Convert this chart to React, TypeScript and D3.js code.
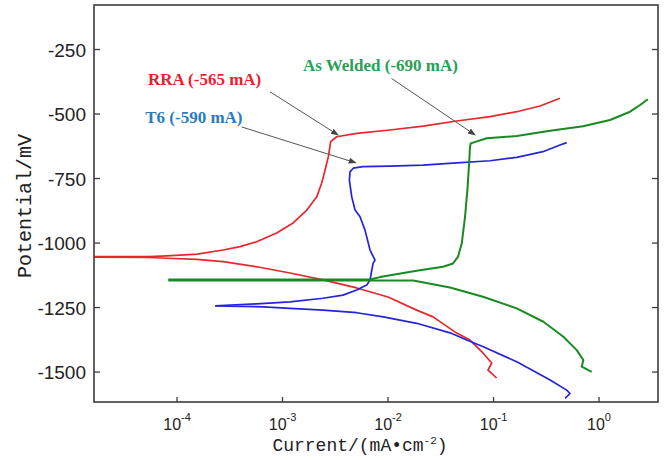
import React from 'react';
import * as d3 from 'd3';

// current in mA/cm2, potential in mV
const rraAnodic: [number, number][] = [
  [1.6e-5, -1053], [5.5e-5, -1053], [8.0e-5, -1050], [1.55e-4, -1043], [2.73e-4, -1027],
  [3.95e-4, -1014], [5.69e-4, -995], [8.8e-4, -961], [1.26e-3, -922], [1.7e-3, -872],
  [2.11e-3, -821], [2.35e-3, -767], [2.44e-3, -743], [2.72e-3, -665], [2.86e-3, -607],
  [3.26e-3, -588], [5.05e-3, -575], [1.04e-2, -562], [2.15e-2, -547], [4.48e-2, -527],
  [9.27e-2, -510], [0.166, -491], [0.276, -469], [0.427, -439],
];
const rraCathodic: [number, number][] = [
  [1.6e-5, -1055], [5.5e-5, -1056], [7.98e-5, -1059], [1.54e-4, -1063], [2.73e-4, -1072],
  [5.69e-4, -1092], [1.18e-3, -1116], [2.42e-3, -1143], [5.05e-3, -1174], [1.0e-2, -1209],
  [1.87e-2, -1260], [2.67e-2, -1286], [4.48e-2, -1349], [5.98e-2, -1376], [7.94e-2, -1426],
  [9.61e-2, -1465], [8.87e-2, -1492], [0.107, -1523],
];
const t6Anodic: [number, number][] = [
  [2.29e-4, -1243], [5.69e-4, -1236], [1.18e-3, -1228], [2.42e-3, -1214], [3.74e-3, -1202],
  [5.05e-3, -1182], [6.28e-3, -1163], [6.75e-3, -1143], [7.21e-3, -1079], [7.53e-3, -1066],
  [6.75e-3, -1027], [6.05e-3, -950], [5.43e-3, -898], [4.87e-3, -872], [4.53e-3, -821],
  [4.3e-3, -756], [4.36e-3, -724], [4.69e-3, -710], [5.79e-3, -704], [1.04e-2, -702],
  [2.15e-2, -698], [4.48e-2, -689], [9.27e-2, -681], [0.166, -668], [0.294, -646],
  [0.427, -620], [0.494, -611],
];
const t6Cathodic: [number, number][] = [
  [2.29e-4, -1244], [6.58e-4, -1247], [1.18e-3, -1253], [2.42e-3, -1260], [5.05e-3, -1270],
  [9.02e-3, -1286], [1.87e-2, -1311], [3.87e-2, -1348], [5.57e-2, -1376], [8.0e-2, -1402],
  [0.166, -1460], [0.344, -1531], [0.494, -1570], [0.531, -1583], [0.477, -1602],
];
const weldAnodic: [number, number][] = [
  [8.27e-5, -1141], [6.75e-3, -1141], [8.39e-3, -1132], [1.87e-2, -1107], [3.32e-2, -1092],
  [4.13e-2, -1079], [4.61e-2, -1053], [5.0e-2, -1001], [5.37e-2, -898], [5.65e-2, -795],
  [5.9e-2, -678], [5.98e-2, -627], [6.08e-2, -614], [6.39e-2, -611], [8.63e-2, -594],
  [0.166, -585], [0.344, -565], [0.706, -547], [1.27, -523], [1.97, -491], [2.45, -465],
  [2.9, -443],
];
const weldCathodic: [number, number][] = [
  [8.27e-5, -1145], [1.73e-2, -1145], [3.87e-2, -1172], [7.94e-2, -1208], [0.166, -1253],
  [0.297, -1305], [0.459, -1363], [0.615, -1415], [0.71, -1453], [0.685, -1479], [0.853, -1499],
];

const yTicks = [-250, -500, -750, -1000, -1250, -1500];
const xTicks = [-4, -3, -2, -1, 0];

const series = [
  {name: 'RRA', color: '#e8262b', branches: [rraAnodic, rraCathodic]},
  {name: 'T6', color: '#2424d8', branches: [t6Anodic, t6Cathodic]},
  {name: 'As Welded', color: '#198a22', branches: [weldAnodic, weldCathodic]},
];

const notes = [
  {text: 'RRA (-565 mA)', color: '#e2252e', at: [5.3e-5, -388], from: [7.62e-4, -414], to: [3.36e-3, -581]},
  {text: 'T6 (-590 mA)', color: '#2b7bbf', at: [5.0e-5, -535], from: [4.1e-4, -550], to: [4.94e-3, -689]},
  {text: 'As Welded (-690 mA)', color: '#2b9e56', at: [1.56e-3, -333], from: [1.08e-2, -362], to: [6.68e-2, -581]},
];

const W = 665;
const H = 460;
const left = 94, right = 658, top = 5, bottom = 402;

export default function App() {
  const x = d3.scaleLog().domain([10 ** -4.787, 10 ** 0.559]).range([left, right]);
  const y = d3.scaleLinear().domain([-77.5, -1616]).range([top, bottom]);
  const line = d3.line<[number, number]>().x(d => x(d[0])).y(d => y(d[1]));

  return (
    <svg width={W} height={H} style={{position: 'absolute', left: 0, top: 0}}>
      <defs>
        <marker id="arr" markerUnits="userSpaceOnUse" markerWidth="8" markerHeight="8"
          viewBox="0 0 8 8" refX="7" refY="4" orient="auto">
          <path d="M0,1 L8,4 L0,7 Z" fill="#444" />
        </marker>
        <clipPath id="plot">
          <rect x={left} y={top} width={right - left} height={bottom - top} />
        </clipPath>
      </defs>
      <rect width={W} height={H} fill="white" />

      <g clipPath="url(#plot)">
        {series.map(s =>
          s.branches.map((b, i) => (
            <path key={s.name + i} d={line(b) || ''} fill="none" stroke={s.color}
              strokeWidth={s.name === 'As Welded' ? 2 : 1.7} strokeLinejoin="round" />
          ))
        )}
      </g>

      {/* frame */}
      <rect x={left} y={top} width={right - left} height={bottom - top} fill="none"
        stroke="#3c3c3c" strokeWidth={1.6} />

      {yTicks.map(t => (
        <g key={t}>
          <line x1={left} x2={left + 6} y1={y(t)} y2={y(t)} stroke="#3c3c3c" strokeWidth={1.3} />
          <line x1={right} x2={right - 6} y1={y(t)} y2={y(t)} stroke="#3c3c3c" strokeWidth={1.3} />
          <text x={left - 8} y={y(t) + 7} textAnchor="end" fontFamily="Liberation Sans"
            fontSize={19} fill="#222">{t}</text>
        </g>
      ))}
      {xTicks.map(t => (
        <g key={t}>
          <line x1={x(10 ** t)} x2={x(10 ** t)} y1={bottom} y2={bottom - 5} stroke="#3c3c3c" strokeWidth={1.3} />
          <text x={x(10 ** t)} y={430} textAnchor="middle" fontFamily="Liberation Sans" fill="#222">
            <tspan fontSize={16}>10</tspan>
            <tspan fontSize={11} dy={-9}>{t}</tspan>
          </text>
        </g>
      ))}

      <text x={360} y={451} textAnchor="middle" fontFamily="Liberation Mono" fontSize={18} fill="#222">
        Current/(mA•cm<tspan fontSize={11} dy={-7}>-2</tspan><tspan dy={7}>)</tspan>
      </text>
      <text transform={`translate(31,${206}) rotate(-90)`} textAnchor="middle"
        fontFamily="Liberation Mono" fontSize={20} fill="#222">Potential/mV</text>

      {notes.map(n => (
        <g key={n.text}>
          <line x1={x(n.from[0])} y1={y(n.from[1])} x2={x(n.to[0])} y2={y(n.to[1])}
            stroke="#555" strokeWidth={1} markerEnd="url(#arr)" />
          <text x={x(n.at[0])} y={y(n.at[1])} fontFamily="Liberation Serif" fontWeight="bold"
            fontSize={17} fill={n.color}>{n.text}</text>
        </g>
      ))}
    </svg>
  );
}
